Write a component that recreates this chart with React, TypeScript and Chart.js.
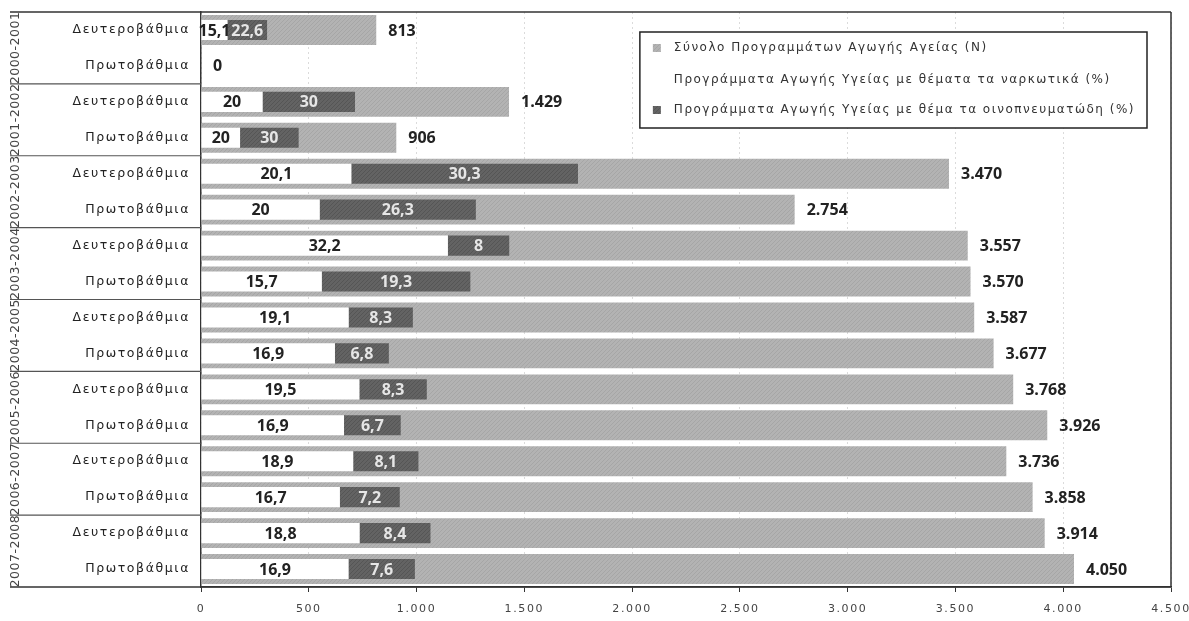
import React, { useEffect, useRef } from 'react';
import { Chart, registerables } from 'chart.js';

Chart.register(...registerables);

// School years (outer group) and school levels (inner rows)
const years = ['2000-2001', '2001-2002', '2002-2003', '2003-2004', '2004-2005', '2005-2006', '2006-2007', '2007-2008'];
const levels = ['Δευτεροβάθμια', 'Πρωτοβάθμια'];

// Total number of health-education programmes (N), one per row
const totals = [813, 0, 1429, 906, 3470, 2754, 3557, 3570, 3587, 3677, 3768, 3926, 3736, 3858, 3914, 4050];
// Share of programmes on drugs (%)
const drugPct = [15.1, null, 20, 20, 20.1, 20, 32.2, 15.7, 19.1, 16.9, 19.5, 16.9, 18.9, 16.7, 18.8, 16.9];
// Share of programmes on alcohol (%)
const alcoholPct = [22.6, null, 30, 30, 30.3, 26.3, 8, 19.3, 8.3, 6.8, 8.3, 6.7, 8.1, 7.2, 8.4, 7.6];

const xMin = 0;
const xMax = 4500;
const xStep = 500;

const seriesNames = [
  'Σύνολο Προγραμμάτων Αγωγής Αγείας (N)',
  'Προγράμματα Αγωγής Υγείας με θέματα τα ναρκωτικά (%)',
  'Προγράμματα Αγωγής Υγείας με θέμα τα οινοπνευματώδη (%)',
];

const FONT = '"DejaVu Sans", "Noto Sans", sans-serif';
const LABEL_FONT = '"Open Sans", "DejaVu Sans", sans-serif';

const fmtThousands = (n: number) => String(Math.round(n)).replace(/\B(?=(\d{3})+(?!\d))/g, '.');
const fmtPct = (p: number) => String(p).replace('.', ',');

function makePattern(base: string, line: string): CanvasPattern | string {
  const c = document.createElement('canvas');
  c.width = 4;
  c.height = 4;
  const g = c.getContext('2d');
  if (!g) return base;
  g.fillStyle = base;
  g.fillRect(0, 0, 4, 4);
  g.strokeStyle = line;
  g.lineWidth = 1;
  g.beginPath();
  g.moveTo(0, 4);
  g.lineTo(4, 0);
  g.moveTo(-2, 2);
  g.lineTo(2, -2);
  g.moveTo(2, 6);
  g.lineTo(6, 2);
  g.stroke();
  const p = g.createPattern(c, 'repeat');
  return p || base;
}

export default function App() {
  const canvasRef = useRef<HTMLCanvasElement | null>(null);

  useEffect(() => {
    const canvas = canvasRef.current;
    if (!canvas) return;

    const grayFill = makePattern('#b3b3b3', '#a6a6a6');
    const darkFill = makePattern('#636363', '#555555');

    const categories = years.flatMap(() => levels);
    const drugBars = totals.map((n, i) => (drugPct[i] == null ? null : [0, (n * (drugPct[i] as number)) / 100]));
    const alcoholBars = totals.map((n, i) =>
      drugPct[i] == null || alcoholPct[i] == null
        ? null
        : [(n * (drugPct[i] as number)) / 100, (n * ((drugPct[i] as number) + (alcoholPct[i] as number))) / 100]
    );

    const framePlugin = {
      id: 'frameAndLabels',
      beforeDraw(chart: any) {
        chart.ctx.letterSpacing = '1.6px';
      },
      afterDatasetsDraw(chart: any) {
        const ctx = chart.ctx;
        ctx.save();
        ctx.letterSpacing = '0px';
        ctx.textBaseline = 'middle';
        const metaDrug = chart.getDatasetMeta(0);
        const metaAlc = chart.getDatasetMeta(1);
        const metaTot = chart.getDatasetMeta(2);
        const xs = chart.scales.x;
        for (let i = 0; i < totals.length; i++) {
          const tot = metaTot.data[i];
          const y = tot.y;
          ctx.font = `bold 16px ${LABEL_FONT}`;
          // total value at the end of the gray bar
          ctx.fillStyle = '#222';
          ctx.textAlign = 'left';
          const endX = totals[i] > 0 ? tot.x : xs.getPixelForValue(0);
          ctx.fillText(fmtThousands(totals[i]), endX + 12, y + 1);
          if (drugPct[i] != null) {
            const el = metaDrug.data[i];
            const cx = (el.x + el.base) / 2;
            ctx.textAlign = 'center';
            ctx.fillStyle = '#222';
            ctx.fillText(fmtPct(drugPct[i] as number), cx, y + 1);
          }
          if (alcoholPct[i] != null) {
            const el = metaAlc.data[i];
            const cx = (el.x + el.base) / 2;
            ctx.textAlign = 'center';
            ctx.fillStyle = '#e6e6e6';
            ctx.fillText(fmtPct(alcoholPct[i] as number), cx, y + 1);
          }
        }
        ctx.restore();
      },
      afterDraw(chart: any) {
        const ctx = chart.ctx;
        const area = chart.chartArea;
        const ys = chart.scales.y;
        const rowH = (area.bottom - area.top) / categories.length;
        const leftEdge = 10;

        ctx.save();
        ctx.letterSpacing = '0px';
        ctx.strokeStyle = '#333';
        ctx.lineWidth = 1.5;
        // top, bottom and right frame lines
        ctx.beginPath();
        ctx.moveTo(leftEdge, area.top);
        ctx.lineTo(area.right, area.top);
        ctx.moveTo(leftEdge, area.bottom);
        ctx.lineTo(area.right, area.bottom);
        ctx.moveTo(area.right, area.top);
        ctx.lineTo(area.right, area.bottom);
        ctx.stroke();

        // separators between school years
        ctx.strokeStyle = '#555';
        ctx.lineWidth = 1.2;
        for (let g = 0; g < years.length - 1; g++) {
          const yy = ys.getPixelForValue(g * 2 + 1) + rowH / 2;
          ctx.beginPath();
          ctx.moveTo(leftEdge, yy);
          ctx.lineTo(area.left, yy);
          ctx.stroke();
        }

        // rotated school-year labels
        ctx.fillStyle = '#444';
        ctx.font = `12.5px ${FONT}`;
        ctx.letterSpacing = '0.5px';
        ctx.textAlign = 'center';
        ctx.textBaseline = 'middle';
        years.forEach((yr, g) => {
          const cy = (ys.getPixelForValue(g * 2) + ys.getPixelForValue(g * 2 + 1)) / 2;
          ctx.save();
          ctx.translate(16, cy);
          ctx.rotate(-Math.PI / 2);
          ctx.fillText(yr, 0, 0);
          ctx.restore();
        });

        // legend box
        ctx.font = `12px ${FONT}`;
        ctx.letterSpacing = '1.5px';
        const textW = Math.max(...seriesNames.map((s) => ctx.measureText(s).width));
        const boxW = 34 + textW + 12;
        const boxR = area.right - 24;
        const boxL = boxR - boxW;
        const boxT = area.top + 20;
        const boxB = boxT + 96;
        ctx.fillStyle = '#fff';
        ctx.fillRect(boxL, boxT, boxW, boxB - boxT);
        ctx.strokeStyle = '#222';
        ctx.lineWidth = 1.5;
        ctx.strokeRect(boxL, boxT, boxW, boxB - boxT);
        const rowsY = [boxT + 16, boxT + 48, boxT + 78];
        const fills = [grayFill, '#ffffff', darkFill];
        seriesNames.forEach((name, k) => {
          ctx.fillStyle = fills[k];
          ctx.fillRect(boxL + 13, rowsY[k] - 4, 8, 8);
          ctx.fillStyle = '#333';
          ctx.textAlign = 'left';
          ctx.textBaseline = 'middle';
          ctx.fillText(name, boxL + 34, rowsY[k]);
        });
        ctx.restore();
        ctx.letterSpacing = '0px';
      },
    };

    const chart = new Chart(canvas, {
      type: 'bar',
      data: {
        labels: categories,
        datasets: [
          {
            label: seriesNames[1],
            data: drugBars as any,
            backgroundColor: '#ffffff',
            barPercentage: 0.56,
            categoryPercentage: 1,
            grouped: false,
            order: 0,
          },
          {
            label: seriesNames[2],
            data: alcoholBars as any,
            backgroundColor: darkFill as any,
            barPercentage: 0.56,
            categoryPercentage: 1,
            grouped: false,
            order: 0,
          },
          {
            label: seriesNames[0],
            data: totals,
            backgroundColor: grayFill as any,
            barPercentage: 0.83,
            categoryPercentage: 1,
            grouped: false,
            order: 1,
          },
        ],
      },
      options: {
        indexAxis: 'y',
        animation: false,
        responsive: true,
        maintainAspectRatio: false,
        layout: { padding: { top: 12, right: 18, left: 0, bottom: 0 } },
        plugins: {
          legend: { display: false },
          tooltip: { enabled: false },
        },
        scales: {
          x: {
            type: 'linear',
            min: xMin,
            max: xMax,
            afterFit: (scale: any) => {
              scale.height = 34;
              scale.paddingLeft = 0;
              scale.paddingRight = 0;
            },
            ticks: {
              stepSize: xStep,
              color: '#444',
              padding: 11,
              font: { family: FONT, size: 11 },
              callback: (v: any) => fmtThousands(Number(v)),
            },
            grid: {
              color: 'rgba(0,0,0,0.14)',
              lineWidth: 1,
              drawTicks: true,
              tickLength: 5,
              tickColor: '#333',
            },
            border: { display: true, color: '#333', width: 1.5, dash: [2, 3] },
          },
          y: {
            type: 'category',
            afterFit: (scale: any) => {
              scale.width = 201;
              scale.paddingTop = 0;
              scale.paddingBottom = 0;
            },
            ticks: {
              autoSkip: false,
              color: '#222',
              padding: 11,
              font: { family: FONT, size: 12.5 },
            },
            grid: { display: false, drawTicks: false },
            border: { display: true, color: '#333', width: 1.5 },
          },
        },
      },
      plugins: [framePlugin],
    });

    return () => chart.destroy();
  }, []);

  return (
    <div style={{ position: 'absolute', left: 0, top: 0, width: 1189, height: 621, background: '#fff' }}>
      <canvas ref={canvasRef} />
    </div>
  );
}
